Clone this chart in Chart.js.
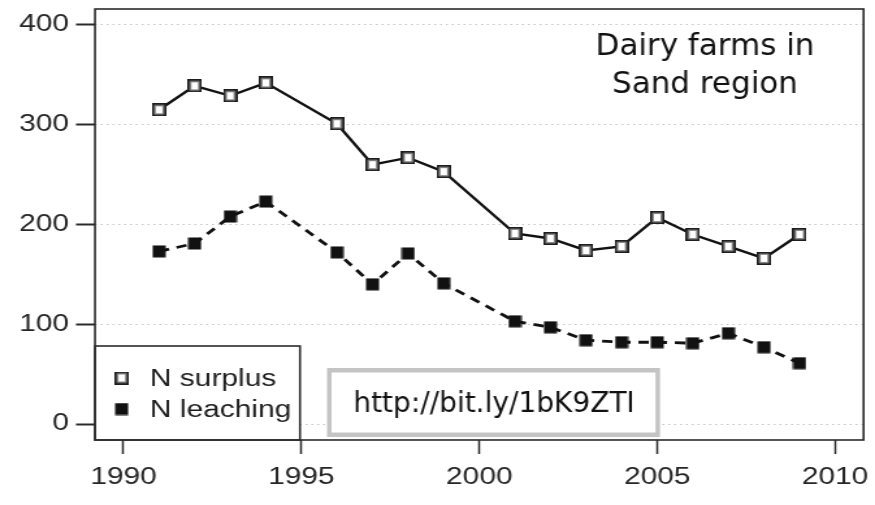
<!DOCTYPE html>
<html>
<head>
<meta charset="utf-8">
<script src="https://cdn.jsdelivr.net/npm/chart.js@4.4.1/dist/chart.umd.min.js"></script>
<style>
  html, body { margin: 0; padding: 0; background: #fff; overflow: hidden; }
  /* the original plot is stretched sideways, so the canvas is too */
  #wrap { width: 673px; height: 505px; transform: scaleX(1.30015); transform-origin: 0 0; }
</style>
</head>
<body>
<div id="wrap"><canvas id="chart" width="673" height="505"></canvas></div>
<script>
const years = [1991, 1992, 1993, 1994, 1996, 1997, 1998, 1999, 2001, 2002, 2003, 2004, 2005, 2006, 2007, 2008, 2009]
const surplus = [315, 339, 329, 342, 301, 260, 267, 253, 191, 186, 174, 178, 207, 190, 178, 166, 190]
const leaching = [173, 181, 208, 223, 172, 140, 171, 141, 103, 97, 84, 82, 82, 81, 91, 77, 61]
const xTicks = [1990, 1995, 2000, 2005, 2010]
const yTicks = [0, 100, 200, 300, 400]
const seriesLabels = ['N surplus', 'N leaching']
const titleLines = ['Dairy farms in', 'Sand region']
const urlText = 'http://bit.ly/1bK9ZTI'

const S = 875 / 673
const ink = '#2b2b2b'

// square markers, a bit taller than wide so they look square after the stretch
const makeMarker = (filled) => {
  const c = document.createElement('canvas')
  c.width = 11
  c.height = 13
  const g = c.getContext('2d')
  if (filled) {
    g.fillStyle = '#111'
    g.fillRect(0.5, 0.5, 10, 12)
  } else {
    g.fillStyle = '#fff'
    g.fillRect(0, 0, 11, 13)
    g.strokeStyle = '#1e1e1e'
    g.lineWidth = 1.8
    g.strokeRect(0.9, 0.9, 9.2, 11.2)
    g.strokeStyle = '#8a8a8a'
    g.lineWidth = 1
    g.strokeRect(2.5, 2.5, 6, 8)
  }
  return c
}
const openMarker = makeMarker(false)
const fillMarker = makeMarker(true)

const toPoints = (vals) => years.map((x, i) => ({ x, y: vals[i] }))

const extrasPlugin = {
  id: 'extras',
  afterDraw(chart) {
    const { ctx, chartArea: a } = chart
    ctx.save()

    // legend box in the lower left corner
    const lx = a.left, ly = 346, lw = 300 / S - a.left, lh = a.bottom - 346
    ctx.fillStyle = '#fff'
    ctx.fillRect(lx, ly, lw, lh)
    ctx.strokeStyle = ink
    ctx.lineWidth = 1.6
    ctx.strokeRect(lx, ly, lw, lh)
    ctx.font = '23px "Liberation Sans", Arial, sans-serif'
    ctx.fillStyle = '#1e1e1e'
    ctx.textAlign = 'left'
    ctx.textBaseline = 'alphabetic'
    chart.data.datasets.forEach((ds, i) => {
      const cy = 378 + i * 31
      const m = ds.pointStyle
      ctx.drawImage(m, 121.7 / S - m.width / 2, cy - m.height / 2)
      ctx.fillText(ds.label, 150 / S, cy + 8)
    })

    // frame round the plot
    ctx.strokeStyle = ink
    ctx.lineWidth = 1.6
    ctx.strokeRect(a.left, a.top, a.right - a.left, a.bottom - a.top)

    // overlays added on top of the figure, not stretched
    ctx.scale(1 / S, 1)
    ctx.fillStyle = '#111'
    ctx.textAlign = 'center'
    ctx.font = '31px "DejaVu Sans", Verdana, sans-serif'
    titleLines.forEach((t, i) => ctx.fillText(t, 705, 55 + i * 38))

    ctx.fillStyle = '#fff'
    ctx.fillRect(327, 368, 333, 69)
    ctx.strokeStyle = '#c4c4c4'
    ctx.lineWidth = 4.5
    ctx.strokeRect(329.25, 370.25, 328.5, 64.5)
    ctx.fillStyle = '#111'
    ctx.font = '28px "DejaVu Sans", Verdana, sans-serif'
    ctx.fillText(urlText, 494, 412)

    ctx.restore()
  }
}

const tickFont = { family: '"Liberation Sans", Arial, sans-serif', size: 23 }

new Chart(document.getElementById('chart').getContext('2d'), {
  type: 'line',
  data: {
    datasets: [
      {
        label: seriesLabels[0],
        data: toPoints(surplus),
        borderColor: '#111',
        borderWidth: 2.4,
        pointStyle: openMarker,
        pointRadius: 6,
        tension: 0,
        fill: false
      },
      {
        label: seriesLabels[1],
        data: toPoints(leaching),
        borderColor: '#111',
        borderWidth: 2.8,
        borderDash: [8, 6],
        pointStyle: fillMarker,
        pointRadius: 6,
        tension: 0,
        fill: false
      }
    ]
  },
  options: {
    responsive: false,
    animation: false,
    devicePixelRatio: 1,
    layout: { padding: { left: 0, right: 673 - 865 / S, top: 9, bottom: 0 } },
    plugins: {
      legend: { display: false },
      tooltip: { enabled: false }
    },
    scales: {
      x: {
        type: 'linear',
        min: 1989.2,
        max: 2010.8,
        afterBuildTicks: (s) => { s.ticks = xTicks.map(v => ({ value: v })) },
        afterFit: (s) => { s.height = 65; s.paddingLeft = 0; s.paddingRight = 0 },
        grid: { drawOnChartArea: false, tickLength: 14, tickColor: ink, tickWidth: 1.5 },
        border: { display: false },
        ticks: {
          padding: 10,
          color: '#262626',
          font: tickFont,
          maxRotation: 0,
          autoSkip: false,
          callback: (v) => String(v)
        }
      },
      y: {
        min: -16,
        max: 416,
        afterBuildTicks: (s) => { s.ticks = yTicks.map(v => ({ value: v })) },
        afterFit: (s) => { s.width = 95 / S; s.paddingTop = 0; s.paddingBottom = 0 },
        grid: { color: '#c6c6c6', lineWidth: 1, tickLength: 14.6, tickColor: ink, tickWidth: 2 },
        border: { display: false, dash: [1.5, 3] },
        ticks: { padding: 5.4, color: '#262626', font: tickFont, callback: (v) => String(v) }
      }
    }
  },
  plugins: [extrasPlugin]
})
</script>
</body>
</html>
